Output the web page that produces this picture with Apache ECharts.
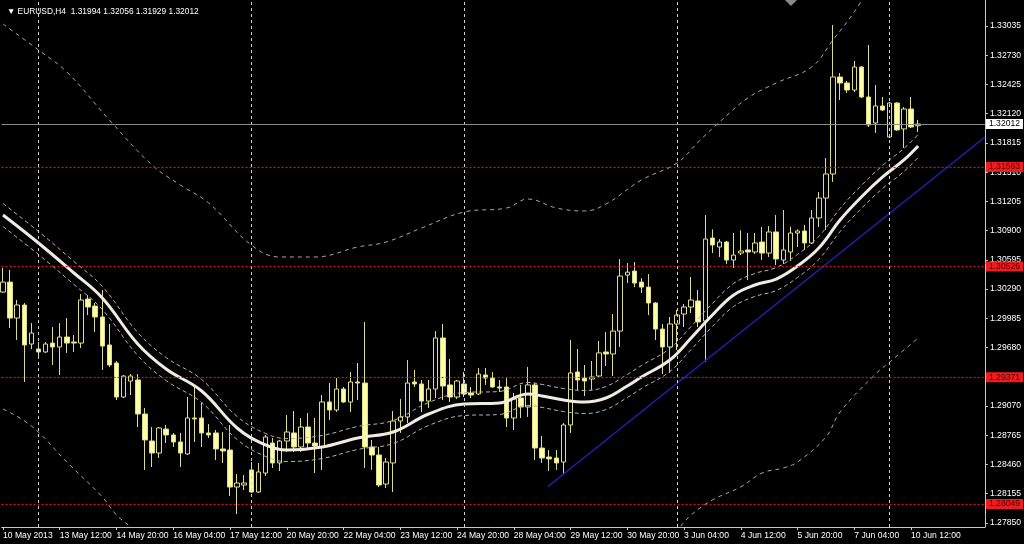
<!DOCTYPE html>
<html><head><meta charset="utf-8">
<script src="https://cdn.jsdelivr.net/npm/echarts@6/dist/echarts.min.js"></script>
<style>html,body{margin:0;padding:0;background:#000}#c{width:1024px;height:544px}</style>
</head><body><div id="c"></div>
<script>
// ---------- data ----------
const symbolName = 'EURUSD,H4';
// [open, close, low, high] per H4 bar, 10 May 2013 04:00 .. 10 Jun 2013 16:00
const candles = [
[1.30259,1.30363,1.30249,1.30510],[1.30363,1.29988,1.29884,1.30489],[1.29988,1.30124,1.29759,1.30176],[1.30124,1.29707,1.29321,1.30145],
[1.29717,1.29832,1.29665,1.29936],[1.29665,1.29634,1.29572,1.29738],[1.29634,1.29717,1.29624,1.29738],[1.29727,1.29686,1.29498,1.29894],
[1.29686,1.29790,1.29394,1.29936],[1.29790,1.29727,1.29624,1.29988],[1.29738,1.29727,1.29634,1.29811],[1.29727,1.30176,1.29676,1.30238],
[1.30186,1.30103,1.30019,1.30228],[1.30113,1.29999,1.29842,1.30145],[1.29999,1.29696,1.29446,1.30280],[1.29707,1.29498,1.29477,1.29926],
[1.29519,1.29164,1.29133,1.29540],[1.29164,1.29383,1.29154,1.29394],[1.29331,1.29383,1.29185,1.29404],[1.29342,1.28987,1.28851,1.29404],
[1.28987,1.28716,1.28403,1.29050],[1.28705,1.28580,1.28434,1.28851],[1.28580,1.28841,1.28528,1.28851],[1.28830,1.28768,1.28684,1.28872],
[1.28768,1.28695,1.28643,1.28789],[1.28695,1.28580,1.28434,1.28789],[1.28570,1.28945,1.28559,1.29164],[1.28945,1.28935,1.28695,1.29268],
[1.28945,1.28789,1.28643,1.29102],[1.28789,1.28768,1.28737,1.28882],[1.28789,1.28622,1.28507,1.28820],[1.28622,1.28601,1.28476,1.28799],
[1.28611,1.28225,1.28131,1.28872],[1.28225,1.28267,1.27943,1.28361],[1.28246,1.28267,1.28194,1.28350],[1.28403,1.28173,1.28163,1.28486],
[1.28173,1.28382,1.28163,1.28476],[1.28371,1.28747,1.28340,1.28768],[1.28684,1.28476,1.28424,1.28737],[1.28476,1.28705,1.28392,1.28716],
[1.28705,1.28799,1.28591,1.28976],[1.28789,1.28643,1.28591,1.29018],[1.28643,1.28851,1.28591,1.28945],[1.28851,1.28684,1.28632,1.28997],
[1.28684,1.28653,1.28371,1.28945],[1.28643,1.29112,1.28403,1.29185],[1.29112,1.29029,1.28924,1.29310],[1.29029,1.29248,1.29008,1.29362],
[1.29248,1.29112,1.29102,1.29269],[1.29112,1.29321,1.29008,1.29425],[1.29321,1.29310,1.29133,1.29519],[1.29310,1.28643,1.28424,1.29947],
[1.28643,1.28559,1.28403,1.28716],[1.28559,1.28246,1.28225,1.28643],[1.28256,1.28486,1.28215,1.28528],[1.28476,1.28914,1.28173,1.29018],
[1.28914,1.28956,1.28789,1.29143],[1.28956,1.29310,1.28893,1.29550],[1.29321,1.29300,1.29268,1.29446],[1.29300,1.29122,1.29008,1.29342],
[1.29122,1.29248,1.29050,1.29342],[1.29248,1.29780,1.29154,1.29852],[1.29780,1.29279,1.29133,1.29926],[1.29290,1.29164,1.29112,1.29561],
[1.29164,1.29331,1.29143,1.29342],[1.29300,1.29196,1.29164,1.29425],[1.29206,1.29185,1.29154,1.29269],[1.29196,1.29404,1.29185,1.29467],
[1.29394,1.29362,1.29290,1.29467],[1.29362,1.29269,1.29258,1.29425],[1.29269,1.29258,1.29216,1.29342],[1.29269,1.28945,1.28851,1.29373],
[1.28945,1.29143,1.28820,1.29206],[1.29154,1.29060,1.28945,1.29290],[1.29060,1.29290,1.28956,1.29477],[1.29290,1.28632,1.28507,1.29310],
[1.28632,1.28528,1.28476,1.28757],[1.28538,1.28518,1.28392,1.28611],[1.28528,1.28476,1.28403,1.28611],[1.28486,1.28872,1.28350,1.28893],
[1.28872,1.29415,1.28789,1.29759],[1.29425,1.29342,1.29237,1.29665],[1.29362,1.29331,1.29175,1.29498],[1.29352,1.29373,1.29237,1.29540],
[1.29383,1.29624,1.29373,1.29749],[1.29634,1.29613,1.29488,1.29842],[1.29613,1.29852,1.29383,1.30030],[1.29852,1.30426,1.29686,1.30604],
[1.30436,1.30467,1.30353,1.30562],[1.30478,1.30353,1.30311,1.30572],[1.30363,1.30311,1.30249,1.30405],[1.30311,1.30145,1.30019,1.30447],
[1.30145,1.29873,1.29759,1.30155],[1.29873,1.29686,1.29404,1.29926],[1.29686,1.29926,1.29415,1.29999],[1.29926,1.30019,1.29655,1.30072],
[1.30030,1.30103,1.29894,1.30134],[1.30103,1.30176,1.30040,1.30416],[1.30166,1.29947,1.29894,1.30280],[1.29957,1.30812,1.29529,1.31063],
[1.30823,1.30750,1.30666,1.30913],[1.30729,1.30781,1.30625,1.30812],[1.30781,1.30593,1.30552,1.30792],[1.30593,1.30645,1.30510,1.30875],
[1.30666,1.30687,1.30645,1.30903],[1.30698,1.30677,1.30384,1.30875],[1.30677,1.30771,1.30656,1.30875],[1.30781,1.30666,1.30593,1.30938],
[1.30666,1.30886,1.30625,1.30948],[1.30886,1.30604,1.30541,1.31063],[1.30593,1.30698,1.30552,1.31115],[1.30677,1.30875,1.30583,1.30942],
[1.30875,1.30896,1.30729,1.30913],[1.30896,1.30771,1.30698,1.30959],[1.30771,1.31032,1.30760,1.31115],[1.31032,1.31240,1.30938,1.31303],
[1.31240,1.31491,1.30906,1.31658],[1.31491,1.32503,1.31408,1.33045],[1.32503,1.32440,1.32263,1.32544],[1.32440,1.32367,1.32336,1.32461],
[1.32367,1.32607,1.32346,1.32670],[1.32607,1.32294,1.32284,1.32617],[1.32294,1.32002,1.31981,1.32837],[1.32023,1.32200,1.31919,1.32419],
[1.32200,1.32158,1.32148,1.32294],[1.31877,1.32231,1.31866,1.32242],[1.32231,1.31950,1.31940,1.32242],[1.31961,1.32169,1.31762,1.32190],
[1.32169,1.31981,1.31971,1.32294],[1.31994,1.32012,1.31929,1.32056]
];
const xLabelIdx = [0,8,16,24,32,40,48,56,64,72,80,88,96,104,112,120,128];
const xLabels = ['10 May 2013','13 May 12:00','14 May 20:00','16 May 04:00','17 May 12:00','20 May 20:00','22 May 04:00','23 May 12:00','24 May 20:00','28 May 04:00','29 May 12:00','30 May 20:00','3 Jun 04:00','4 Jun 12:00','5 Jun 20:00','7 Jun 04:00','10 Jun 12:00'];
const weekStarts = [5,35,65,95,125];
const priceTicks = [1.27850,1.28155,1.28460,1.28765,1.29070,1.29375,1.29680,1.29985,1.30290,1.30595,1.30900,1.31205,1.31510,1.31815,1.32120,1.32425,1.32730,1.33035];
// moving average (bar index, price)
const maLine = [[0,1.31063],[5,1.30771],[10,1.30458],[14,1.30197],[19,1.29717],[23,1.29456],[28,1.29227],[33,1.28841],[37,1.28664],[40,1.28611],[45,1.28643],[50,1.28737],[55,1.28799],[60,1.28987],[65,1.29091],[70,1.29102],[74,1.29196],[76,1.29175],[79,1.29133],[82,1.29112],[85,1.29154],[88,1.29279],[90,1.29373],[94,1.29550],[97,1.29780],[100,1.30020],[103,1.30229],[106,1.30333],[109,1.30395],[112,1.30531],[115,1.30719],[118,1.31011],[121,1.31251],[124,1.31460],[127,1.31637],[129,1.31783]];
const envUpper = [[0,1.31183],[5,1.30891],[10,1.30578],[14,1.30317],[19,1.29837],[23,1.29576],[28,1.29347],[33,1.28961],[37,1.28784],[40,1.28731],[45,1.28763],[50,1.28857],[55,1.28919],[60,1.29107],[65,1.29211],[70,1.29222],[74,1.29316],[76,1.29295],[79,1.29253],[82,1.29232],[85,1.29274],[88,1.29399],[90,1.29493],[94,1.29670],[97,1.29900],[100,1.30140],[103,1.30349],[106,1.30453],[109,1.30515],[112,1.30651],[115,1.30839],[118,1.31131],[121,1.31371],[124,1.31580],[127,1.31757],[129,1.31903]];
const envLower = [[0,1.30943],[5,1.30651],[10,1.30338],[14,1.30077],[19,1.29597],[23,1.29336],[28,1.29107],[33,1.28721],[37,1.28544],[40,1.28491],[45,1.28523],[50,1.28617],[55,1.28679],[60,1.28867],[65,1.28971],[70,1.28982],[74,1.29076],[76,1.29055],[79,1.29013],[82,1.28992],[85,1.29034],[88,1.29159],[90,1.29253],[94,1.29430],[97,1.29660],[100,1.29900],[103,1.30109],[106,1.30213],[109,1.30275],[112,1.30411],[115,1.30599],[118,1.30891],[121,1.31131],[124,1.31340],[127,1.31517],[129,1.31663]];
const bandUpper = [[0,1.33056],[5,1.32784],[9,1.32555],[15,1.32054],[21,1.31585],[25,1.31376],[29,1.31188],[35,1.30750],[39,1.30625],[44,1.30625],[50,1.30729],[54,1.30781],[59,1.30927],[65,1.31094],[71,1.31136],[74,1.31230],[78,1.31136],[82,1.31105],[85,1.31178],[90,1.31428],[95,1.31605],[98,1.31824],[101,1.32033],[105,1.32284],[109,1.32440],[114,1.32607],[117,1.32889],[120,1.33181],[122,1.33420]];
const bandLowerLeft = [[0,1.29039],[4,1.28862],[9,1.28486],[14,1.28121],[16,1.27933],[18,1.27808],[20,1.27672]];
const bandLowerRight = [[93,1.27650],[95,1.27776],[97,1.27933],[100,1.28090],[104,1.28226],[107,1.28371],[110,1.28424],[112,1.28486],[116,1.28747],[118,1.29008],[123,1.29404],[125,1.29529],[129,1.29780]];
const levels = [1.31563,1.30526,1.29371,1.28049];
const trendLine = [[76.8,1.28229],[138.42,1.31876]];

// ---------- chart ----------
const FONT = "'Liberation Sans', Arial, sans-serif";
const f5 = v => Number(v).toFixed(5);
const last = candles[candles.length - 1];
const lastPrice = last[1];
const chart = echarts.init(document.getElementById('c'));
const dashLine = (name, data, color, dash) => ({
  type: 'line', name, data, smooth: 0.4, symbol: 'none', silent: true, z: 3,
  lineStyle: { color, width: 1, type: dash }
});
chart.setOption({
  backgroundColor: '#000',
  animation: false,
  title: {
    text: '▼ ' + symbolName + '  ' + [last[0], last[3], last[2], last[1]].map(f5).join(' '),
    left: 2, top: 3,
    textStyle: { color: '#fff', fontSize: 8.4, fontWeight: 'normal', fontFamily: FONT }
  },
  grid: { left: 0, right: 37, top: 0, bottom: 17 },
  xAxis: {
    type: 'value', min: -0.2, max: 138.42,
    axisLine: { show: true, onZero: false, lineStyle: { color: '#c8c8c8' } },
    splitLine: { show: false },
    axisTick: { show: true, customValues: xLabelIdx, length: 3, lineStyle: { color: '#c8c8c8' } },
    axisLabel: {
      customValues: xLabelIdx,
      formatter: v => xLabels[xLabelIdx.indexOf(Math.round(v))] || '',
      align: 'left', color: '#fff', fontSize: 8.6, fontFamily: FONT, margin: 4
    }
  },
  yAxis: {
    type: 'value', position: 'right', min: 1.27808, max: 1.33306,
    axisLine: { show: true, onZero: false, lineStyle: { color: '#c8c8c8' } },
    splitLine: { show: false },
    axisTick: { show: true, customValues: priceTicks, length: 3, lineStyle: { color: '#c8c8c8' } },
    axisLabel: { customValues: priceTicks, formatter: f5, color: '#fff', fontSize: 8.6, fontFamily: FONT, margin: 5 }
  },
  graphic: [{
    type: 'polygon', shape: { points: [[785, 0], [797, 0], [791, 6]] },
    style: { fill: '#8a8a8a' }, silent: true
  }],
  series: [
    {
      type: 'line', data: [], silent: true, z: 1,
      markLine: {
        silent: true, symbol: ['none', 'none'], animation: false, precision: 5,
        data: [
          ...weekStarts.map(i => ({ xAxis: i, lineStyle: { color: '#d0d0d0', type: [3, 3], width: 1 }, label: { show: false } })),
          ...levels.map(v => ({
            yAxis: v, lineStyle: { color: '#d41818', type: [2, 2], width: 1.2 },
            label: { show: true, position: 'end', distance: 1, formatter: () => f5(v), backgroundColor: '#ee1c1c', color: '#4a0000', fontSize: 8.6, fontFamily: FONT, padding: [1, 3, 0, 3] }
          })),
          {
            yAxis: lastPrice, lineStyle: { color: '#8c8c8c', type: 'solid', width: 1 },
            label: { show: true, position: 'end', distance: 1, formatter: () => f5(lastPrice), backgroundColor: '#ffffff', color: '#000', fontSize: 8.6, fontFamily: FONT, padding: [1, 3, 0, 3] }
          }
        ]
      }
    },
    {
      type: 'candlestick', name: symbolName,
      data: candles.map((c, i) => [i, c[0], c[1], c[2], c[3]]),
      encode: { x: 0, y: [1, 2, 3, 4] },
      barWidth: 5, z: 2,
      itemStyle: { color: '#000000', color0: '#ffffa6', borderColor: '#dcdc8c', borderColor0: '#dcdc8c', borderWidth: 1 }
    },
    dashLine('bandUpper', bandUpper, '#a8a8a8', [4, 4]),
    dashLine('bandLowerLeft', bandLowerLeft, '#a8a8a8', [4, 4]),
    dashLine('bandLowerRight', bandLowerRight, '#a8a8a8', [4, 4]),
    dashLine('envUpper', envUpper, '#b4b4b4', [4, 3]),
    dashLine('envLower', envLower, '#b4b4b4', [4, 3]),
    {
      type: 'line', name: 'MA', data: maLine, smooth: 0.4, symbol: 'none', silent: true, z: 4,
      lineStyle: { color: '#f2ebe2', width: 3 }
    },
    {
      type: 'line', name: 'trend', data: trendLine, symbol: 'none', silent: true, z: 4,
      lineStyle: { color: '#1e1ea0', width: 1.5 }
    }
  ]
});
</script>
</body></html>
